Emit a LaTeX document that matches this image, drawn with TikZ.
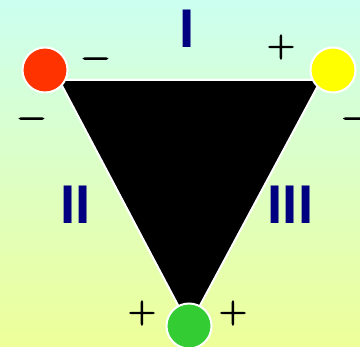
\documentclass[tikz,border=0pt]{standalone}
\usepackage{fontspec}
\newfontfamily\numfont{Liberation Sans}
\newfontfamily\signfont[FakeBold=3]{Latin Modern Roman}
\definecolor{bgtop}{RGB}{204,255,240}
\definecolor{bgbot}{RGB}{238,255,153}
\definecolor{navyc}{RGB}{0,0,128}
\definecolor{redc}{RGB}{255,51,0}
\definecolor{yelc}{RGB}{255,255,0}
\definecolor{grnc}{RGB}{51,204,51}
\tikzset{
  ball/.style={circle, draw=white, line width=2pt, minimum size=45pt, inner sep=0pt},
  roman/.style={inner sep=0pt, text=navyc, font=\numfont\bfseries\fontsize{54.5}{60}\selectfont},
  sign/.style={inner sep=0pt, text=black, font=\signfont\fontsize{38}{42}\selectfont}
}
\begin{document}
\begin{tikzpicture}[x=1pt,y=-1pt]
\useasboundingbox (0,0) rectangle (360,347);
\fill[top color=bgtop, bottom color=bgbot] (0,0) rectangle (360,347);
\coordinate (tl) at (59,80);
\coordinate (tr) at (321,80);
\coordinate (bt) at (189,326);
\filldraw[fill=black, draw=white, line width=2pt, line join=miter] (tl) -- (tr) -- (bt) -- cycle;
\node[ball, fill=redc] (r) at (45,70) {};
\node[ball, fill=yelc] (y) at (333,70) {};
\node[ball, fill=grnc] (g) at (189,326) {};
\node[roman] (n1) at (187,28.5) {I};
\node[roman] (n2) at (75.5,204.5) {II};
\node[roman] (n3) at (290.5,204.5) {III};
\node[sign] (s1) at (95.5,63) {−};
\node[sign] (s2) at (281,47) {+};
\node[sign] (s3) at (31.5,123) {−};
\node[sign] (s4) at (356,123) {−};
\node[sign] (s5) at (142,313) {+};
\node[sign] (s6) at (233,313) {+};
\end{tikzpicture}
\end{document}
